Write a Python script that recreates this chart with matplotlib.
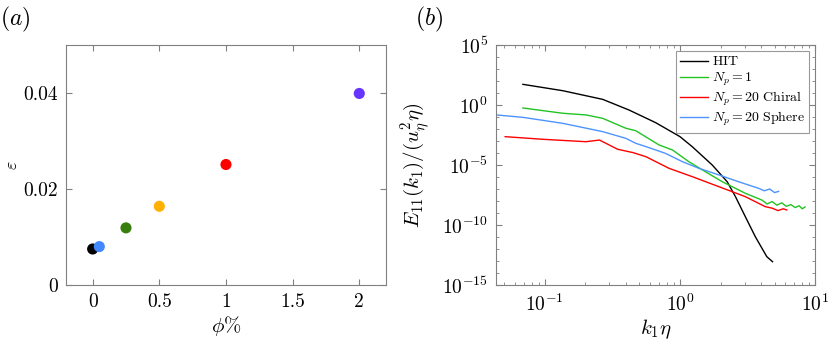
import matplotlib
matplotlib.use("Agg")
import matplotlib.pyplot as plt
import numpy as np
from matplotlib.ticker import LogLocator, FixedLocator, NullFormatter

plt.rcParams['font.family'] = 'serif'
plt.rcParams['font.serif'] = ['cmr10', 'DejaVu Serif']
plt.rcParams['mathtext.fontset'] = 'cm'
plt.rcParams['axes.formatter.use_mathtext'] = True

# panel (a): dissipation vs volume fraction
phi = [0.0, 0.05, 0.25, 0.5, 1.0, 2.0]
eps = [0.0075, 0.0080, 0.0119, 0.0164, 0.0251, 0.0399]
eps_colors = ['black', '#4488ff', '#377e0f', '#ffb000', '#ff0000', '#6633ff']

# panel (b): spectra (log10 of E values)
hit_k = [0.069, 0.136, 0.268, 0.42, 0.66, 1.0, 1.23, 1.73, 2.23, 2.57, 3.04, 3.6, 4.38, 4.83]
hit_E = [1.72, 1.19, 0.47, -0.42, -1.47, -2.64, -3.47, -5.0, -6.39, -7.64, -9.31, -10.97, -12.64, -13.06]

np1_k = [0.069, 0.136, 0.202, 0.268, 0.398, 0.47, 0.70, 0.88, 1.16, 1.54, 2.05, 3.04, 4.03,
         4.4, 4.8, 5.2, 5.65, 6.1, 6.6, 7.1, 7.6, 8.0, 8.4]
np1_E = [-0.25, -0.69, -0.83, -1.11, -1.94, -2.14, -3.33, -3.75, -4.72, -5.56, -6.39, -7.36, -7.92,
         -8.25, -8.05, -8.35, -8.15, -8.45, -8.3, -8.55, -8.4, -8.65, -8.5]

chi_k = [0.051, 0.097, 0.202, 0.254, 0.346, 0.45, 0.56, 0.83, 1.23, 1.94, 3.04, 4.26, 4.8, 5.3, 5.8, 6.15]
chi_E = [-2.64, -2.86, -3.06, -2.92, -3.69, -3.97, -4.31, -5.28, -5.97, -6.81, -7.64, -8.47, -8.6, -8.8, -8.65, -8.75]

sph_k = [0.0439, 0.069, 0.136, 0.268, 0.398, 0.47, 0.56, 0.78, 1.04, 1.38, 1.94, 2.7, 3.8, 4.2, 4.6, 5.0, 5.35]
sph_E = [-0.83, -1.03, -1.53, -2.22, -2.78, -3.19, -3.47, -4.03, -4.72, -5.28, -5.83, -6.39, -6.94, -7.15, -7.0, -7.3, -7.2]

spectra = [
    (hit_k, hit_E, 'black', r'$\mathrm{HIT}$'),
    (np1_k, np1_E, '#22c322', r'$N_p=1$'),
    (chi_k, chi_E, '#ff0000', r'$N_p=20\ \mathrm{Chiral}$'),
    (sph_k, sph_E, '#4d94ff', r'$N_p=20\ \mathrm{Sphere}$'),
]

spine_col = '#808080'


def style_axes(ax):
    for s in ax.spines.values():
        s.set_color(spine_col)
        s.set_linewidth(0.8)
    ax.tick_params(which='both', direction='in', top=True, right=True,
                   color=spine_col, labelsize=14, pad=6)
    ax.tick_params(which='major', length=4)
    ax.tick_params(which='minor', length=2.5)


fig = plt.figure(figsize=(8.3, 3.4), dpi=100)

ax1 = fig.add_axes([0.0795, 0.1618, 0.3855, 0.7059])
ax1.scatter(phi, eps, s=64, c=eps_colors, zorder=3, linewidths=0)
ax1.set_xlim(-0.2, 2.2)
ax1.set_ylim(0, 0.05)
ax1.set_xticks([0, 0.5, 1, 1.5, 2])
ax1.set_xticklabels(['0', '0.5', '1', '1.5', '2'])
ax1.set_yticks([0, 0.02, 0.04])
ax1.set_yticklabels(['0', '0.02', '0.04'])
ax1.set_xlabel(r'$\phi\%$', fontsize=15, labelpad=2)
ax1.set_ylabel(r'$\varepsilon$', fontsize=13)
ax1.yaxis.set_label_coords(-0.145, 0.5)
style_axes(ax1)
fig.text(0.0, 0.985, r'$(a)$', fontsize=17, ha='left', va='top')

ax2 = fig.add_axes([0.598, 0.1618, 0.3843, 0.7059])
for k, E, col, lab in spectra:
    ax2.plot(k, 10.0 ** np.array(E), color=col, lw=1.0, label=lab)
ax2.set_xscale('log')
ax2.set_yscale('log')
ax2.set_xlim(0.0439, 10)
ax2.set_ylim(1e-15, 1e5)
ax2.yaxis.set_major_locator(FixedLocator([1e-15, 1e-10, 1e-5, 1e0, 1e5]))
ax2.yaxis.set_minor_locator(LogLocator(base=10, subs=[1.0], numticks=30))
ax2.yaxis.set_minor_formatter(NullFormatter())
ax2.xaxis.set_major_locator(FixedLocator([1e-1, 1e0, 1e1]))
ax2.xaxis.set_minor_locator(LogLocator(base=10, subs=np.arange(2, 10), numticks=30))
ax2.xaxis.set_minor_formatter(NullFormatter())
ax2.set_xlabel(r'$k_1\eta$', fontsize=15, labelpad=2)
ax2.set_ylabel(r'$E_{11}(k_1)/(u_\eta^2\eta)$', fontsize=15)
ax2.yaxis.set_label_coords(-0.2, 0.5)
style_axes(ax2)
leg = ax2.legend(loc='upper right', fontsize=10, frameon=True, fancybox=False,
                 handlelength=2.0, handletextpad=0.3, borderpad=0.3,
                 labelspacing=0.15, borderaxespad=0.45)
leg.get_frame().set_edgecolor(spine_col)
leg.get_frame().set_linewidth(0.8)
fig.text(0.5, 0.985, r'$(b)$', fontsize=17, ha='left', va='top')

fig.savefig('out.png', dpi=100)
